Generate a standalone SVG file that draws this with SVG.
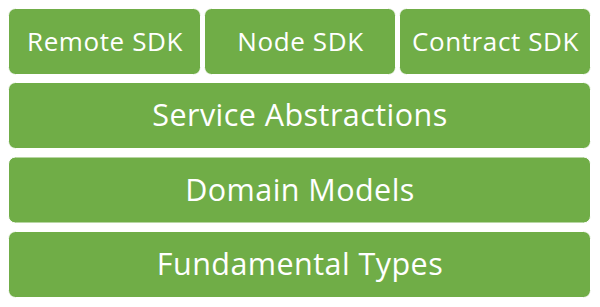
<svg xmlns="http://www.w3.org/2000/svg" width="600" height="307" viewBox="0 0 600 307">
  <style>
    .box { fill: #70AD47; stroke: #ffffff; stroke-width: 1; }
    .lbl { fill: #ffffff; font-family: "Open Sans", Lato, "Liberation Sans", sans-serif; text-anchor: middle; }
    .sm { font-size: 26px; letter-spacing: 0.6px; }
    .lg { font-size: 30.5px; letter-spacing: 0.45px; }
  </style>
  <rect width="600" height="307" fill="#ffffff"/>
  <!-- SDK layer -->
  <g id="remote-sdk">
    <rect class="box" x="8.5" y="8.5" width="192" height="66" rx="7"/>
    <text class="lbl sm" x="105" y="51">Remote SDK</text>
  </g>
  <g id="node-sdk">
    <rect class="box" x="204.5" y="8.5" width="191" height="66" rx="7"/>
    <text class="lbl sm" x="300.5" y="51">Node SDK</text>
  </g>
  <g id="contract-sdk">
    <rect class="box" x="399.5" y="8.5" width="191" height="66" rx="7"/>
    <text class="lbl sm" x="495.5" y="51">Contract SDK</text>
  </g>
  <!-- lower layers -->
  <g id="service-abstractions">
    <rect class="box" x="8.5" y="82.5" width="582" height="66" rx="7"/>
    <text class="lbl lg" x="300" y="126">Service Abstractions</text>
  </g>
  <g id="domain-models">
    <rect class="box" x="8.5" y="157" width="582" height="66" rx="7"/>
    <text class="lbl lg" x="300" y="200.5">Domain Models</text>
  </g>
  <g id="fundamental-types">
    <rect class="box" x="8.5" y="231.5" width="582" height="66" rx="7"/>
    <text class="lbl lg" x="300" y="275">Fundamental Types</text>
  </g>
  <g id="connectors"/>
</svg>
